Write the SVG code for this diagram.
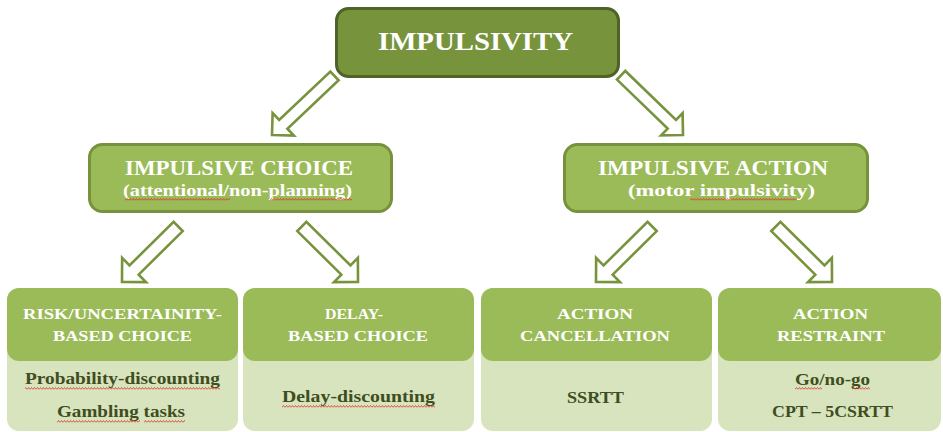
<svg xmlns="http://www.w3.org/2000/svg" width="943" height="432" viewBox="0 0 943 432">
<style>
text{font-family:"Liberation Serif","DejaVu Serif",serif;font-weight:bold;}
.w{fill:#ffffff;}
.d{fill:#3f4d1f;}
.arrow{fill:#ffffff;stroke:#77933c;stroke-width:2.6;stroke-linejoin:miter;}
.hdr{fill:#9bbb59;}
.low{fill:#d7e4bd;}
</style>
<defs>
<path id="arrTop" d="M0,0 L-15.5,-15.5 L-15.5,-6 L-86,-6 L-86,6 L-15.5,6 L-15.5,15.5 Z"/>
<path id="arrBot" d="M0,0 L-17,-17 L-17,-6.5 L-79,-6.5 L-79,6.5 L-17,6.5 L-17,17 Z"/>
<pattern id="sq" width="3" height="3" patternUnits="userSpaceOnUse">
<path d="M0,2.5 L1.5,0.5 L3,2.5" fill="none" stroke="#e03030" stroke-width="0.8"/>
</pattern>
</defs>
<rect width="943" height="432" fill="#ffffff"/>

<g id="connectors">
<use href="#arrTop" class="arrow" transform="translate(272,135) rotate(136.6)"/>
<use href="#arrTop" class="arrow" transform="translate(683,135) rotate(44)"/>
<use href="#arrBot" class="arrow" transform="translate(122,282) rotate(135.3)"/>
<use href="#arrBot" class="arrow" transform="translate(358,282) rotate(44.7)"/>
<use href="#arrBot" class="arrow" transform="translate(596,282) rotate(135.3)"/>
<use href="#arrBot" class="arrow" transform="translate(832,282) rotate(44.7)"/>
</g>

<g id="impulsivity">
<rect x="336.5" y="8.5" width="282" height="68" rx="12" fill="#77933c" stroke="#4f6228" stroke-width="3"/>
<text class="w" x="378" y="50" font-size="26" textLength="195" lengthAdjust="spacingAndGlyphs">IMPULSIVITY</text>
</g>

<g id="impulsive-choice">
<rect x="89.5" y="144.5" width="302" height="67" rx="13" fill="#9bbb59" stroke="#76923c" stroke-width="3"/>
<text class="w" x="125" y="175" font-size="21" textLength="228" lengthAdjust="spacingAndGlyphs">IMPULSIVE CHOICE</text>
<text class="w" x="123" y="196" font-size="17" textLength="229" lengthAdjust="spacingAndGlyphs">(attentional/non-planning)</text>
<rect x="125" y="198" width="105" height="3" fill="url(#sq)"/>
<rect x="270" y="198" width="82" height="3" fill="url(#sq)"/>
</g>

<g id="impulsive-action">
<rect x="564.5" y="144.5" width="303" height="67" rx="13" fill="#9bbb59" stroke="#76923c" stroke-width="3"/>
<text class="w" x="598" y="175" font-size="21" textLength="230" lengthAdjust="spacingAndGlyphs">IMPULSIVE ACTION</text>
<text class="w" x="628" y="196" font-size="17" textLength="187" lengthAdjust="spacingAndGlyphs">(motor impulsivity)</text>
<rect x="690" y="198" width="107" height="3" fill="url(#sq)"/>
</g>

<g id="risk-choice">
<rect x="7" y="288" width="231" height="143" rx="12" class="low"/>
<rect x="7" y="288" width="231" height="73" rx="12" class="hdr"/>
<text class="w" x="23" y="319" font-size="15.5" textLength="199" lengthAdjust="spacingAndGlyphs">RISK/UNCERTAINITY-</text>
<text class="w" x="53" y="341" font-size="15.5" textLength="139" lengthAdjust="spacingAndGlyphs">BASED CHOICE</text>
<text class="d" x="25" y="384" font-size="16.5" textLength="195" lengthAdjust="spacingAndGlyphs">Probability-discounting</text>
<text class="d" x="57" y="417" font-size="16.5" textLength="128" lengthAdjust="spacingAndGlyphs">Gambling tasks</text>
<rect x="25" y="387" width="195" height="3" fill="url(#sq)"/>
<rect x="57" y="420" width="83" height="3" fill="url(#sq)"/>
<rect x="144" y="420" width="41" height="3" fill="url(#sq)"/>
</g>

<g id="delay-choice">
<rect x="243" y="288" width="231" height="143" rx="12" class="low"/>
<rect x="243" y="288" width="231" height="73" rx="12" class="hdr"/>
<text class="w" x="325" y="319" font-size="15.5" textLength="58" lengthAdjust="spacingAndGlyphs">DELAY-</text>
<text class="w" x="288" y="341" font-size="15.5" textLength="140" lengthAdjust="spacingAndGlyphs">BASED CHOICE</text>
<text class="d" x="282" y="402" font-size="16.5" textLength="153" lengthAdjust="spacingAndGlyphs">Delay-discounting</text>
<rect x="282" y="405" width="153" height="3" fill="url(#sq)"/>
</g>

<g id="action-cancellation">
<rect x="481" y="288" width="231" height="143" rx="12" class="low"/>
<rect x="481" y="288" width="231" height="73" rx="12" class="hdr"/>
<text class="w" x="557" y="319" font-size="15.5" textLength="76" lengthAdjust="spacingAndGlyphs">ACTION</text>
<text class="w" x="520" y="341" font-size="15.5" textLength="150" lengthAdjust="spacingAndGlyphs">CANCELLATION</text>
<text class="d" x="567" y="403" font-size="16.5" textLength="57" lengthAdjust="spacingAndGlyphs">SSRTT</text>
</g>

<g id="action-restraint">
<rect x="718" y="288" width="223" height="143" rx="12" class="low"/>
<rect x="718" y="288" width="223" height="73" rx="12" class="hdr"/>
<text class="w" x="793" y="319" font-size="15.5" textLength="75" lengthAdjust="spacingAndGlyphs">ACTION</text>
<text class="w" x="777" y="341" font-size="15.5" textLength="108" lengthAdjust="spacingAndGlyphs">RESTRAINT</text>
<text class="d" x="795" y="385" font-size="16.5" textLength="75" lengthAdjust="spacingAndGlyphs">Go/no-go</text>
<text class="d" x="772" y="417" font-size="16.5" textLength="121" lengthAdjust="spacingAndGlyphs">CPT – 5CSRTT</text>
<rect x="795" y="387" width="27" height="3" fill="url(#sq)"/>
<rect x="852" y="387" width="18" height="3" fill="url(#sq)"/>
</g>
</svg>
